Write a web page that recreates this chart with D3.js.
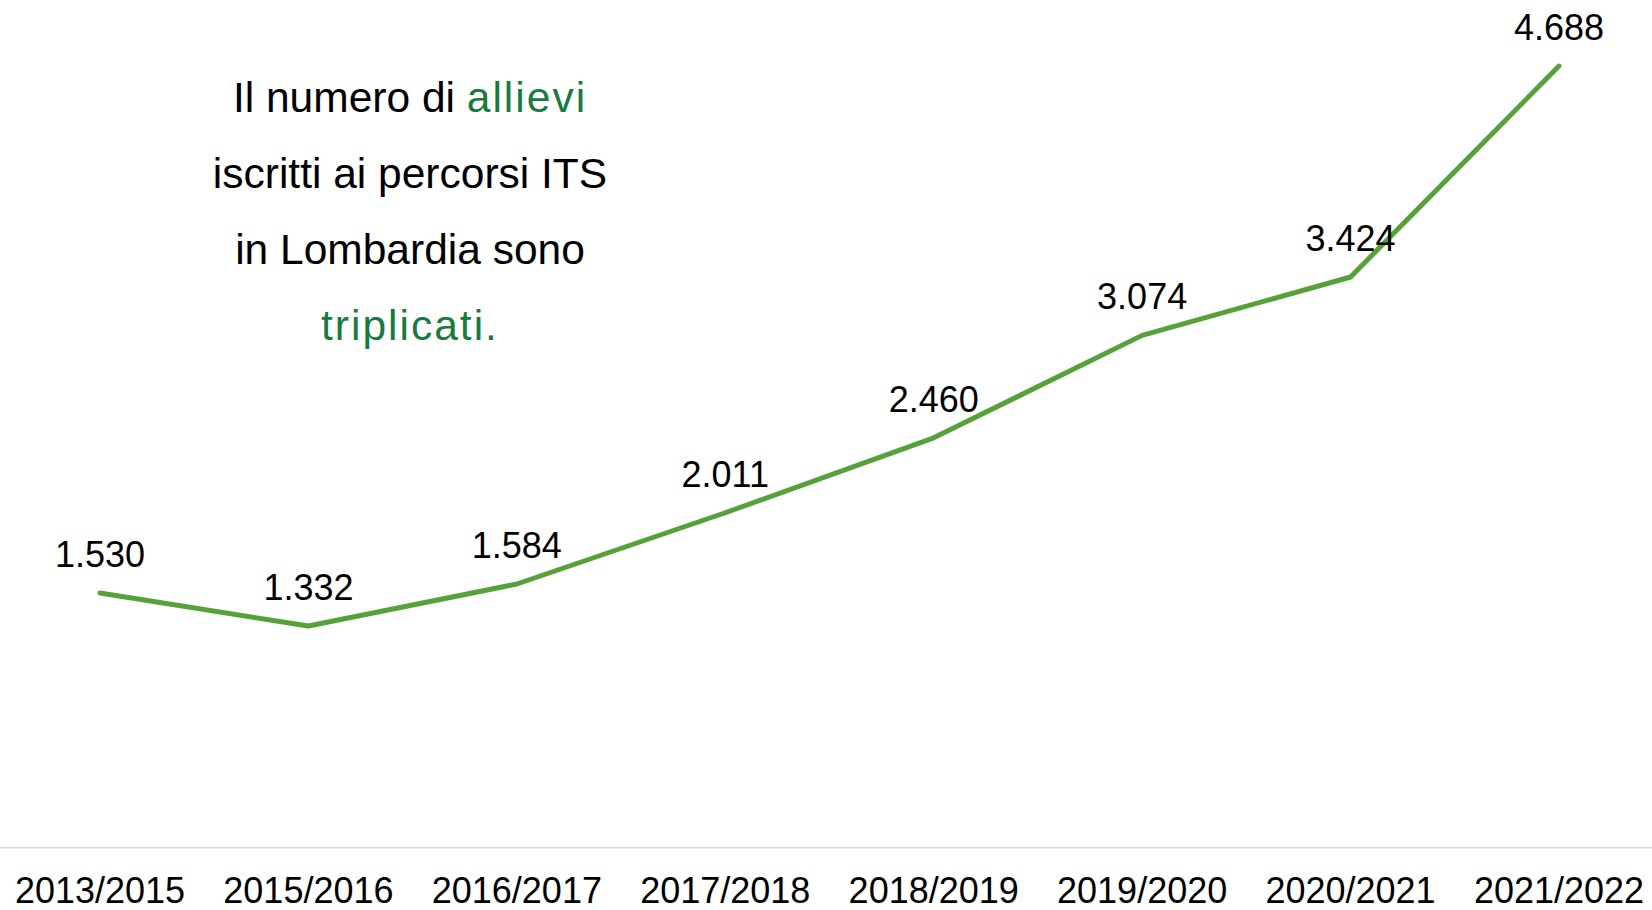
<!DOCTYPE html>
<html>
<head>
<meta charset="utf-8">
<script src="https://cdn.jsdelivr.net/npm/d3@7/dist/d3.min.js"></script>
<style>
  html, body { margin: 0; padding: 0; background: #fff; }
  svg { display: block; }
</style>
</head>
<body>
<svg id="chart" width="1652" height="910"></svg>
<script>
const categories = ["2013/2015","2015/2016","2016/2017","2017/2018","2018/2019","2019/2020","2020/2021","2021/2022"];
const values = [1530, 1332, 1584, 2011, 2460, 3074, 3424, 4688];
const yDomain = [0, 5000];
const annotationLines = [
  [{t:"Il numero di ", g:false}, {t:"allievi", g:true}],
  [{t:"iscritti ai percorsi ITS", g:false}],
  [{t:"in Lombardia sono", g:false}],
  [{t:"triplicati.", g:true}]
];

const W = 1652, H = 910;
const svg = d3.select("#chart");
const font = "'Liberation Sans', Arial, sans-serif";

const x = d3.scalePoint().domain(categories).range([100, 1559]);
const y = d3.scaleLinear().domain(yDomain).range([848.3, 14]);

// axis baseline
svg.append("line")
  .attr("x1", 0).attr("x2", W)
  .attr("y1", y(0) - 0.5).attr("y2", y(0) - 0.5)
  .attr("stroke", "#d9d9d9").attr("stroke-width", 1.5);

// x labels
svg.append("g").selectAll("text").data(categories).join("text")
  .attr("x", d => x(d))
  .attr("y", 903)
  .attr("text-anchor", "middle")
  .attr("font-family", font)
  .attr("font-size", 36)
  .attr("fill", "#000")
  .text(d => d);

// line
const data = categories.map((c, i) => ({c, v: values[i]}));
const line = d3.line().x(d => x(d.c)).y(d => y(d.v));
svg.append("path")
  .datum(data)
  .attr("d", line)
  .attr("fill", "none")
  .attr("stroke", "#57a13a")
  .attr("stroke-width", 5)
  .attr("stroke-linejoin", "round")
  .attr("stroke-linecap", "round");

// value labels
const fmt = v => d3.format(",")(v).replace(/,/g, ".");
svg.append("g").selectAll("text").data(data).join("text")
  .attr("x", d => x(d.c))
  .attr("y", d => y(d.v) - 26)
  .attr("text-anchor", "middle")
  .attr("font-family", font)
  .attr("font-size", 36)
  .attr("fill", "#000")
  .text(d => fmt(d.v));

// annotation
const ann = svg.append("g");
const baselines = [112, 188, 264, 340];
annotationLines.forEach((parts, i) => {
  const t = ann.append("text")
    .attr("x", 410)
    .attr("y", baselines[i])
    .attr("text-anchor", "middle")
    .attr("font-family", font)
    .attr("font-size", 42.5);
  parts.forEach(p => {
    t.append("tspan")
      .attr("fill", p.g ? "#177a3e" : "#000")
      .attr("letter-spacing", p.g ? 2 : 0)
      .text(p.t);
  });
});
</script>
</body>
</html>
